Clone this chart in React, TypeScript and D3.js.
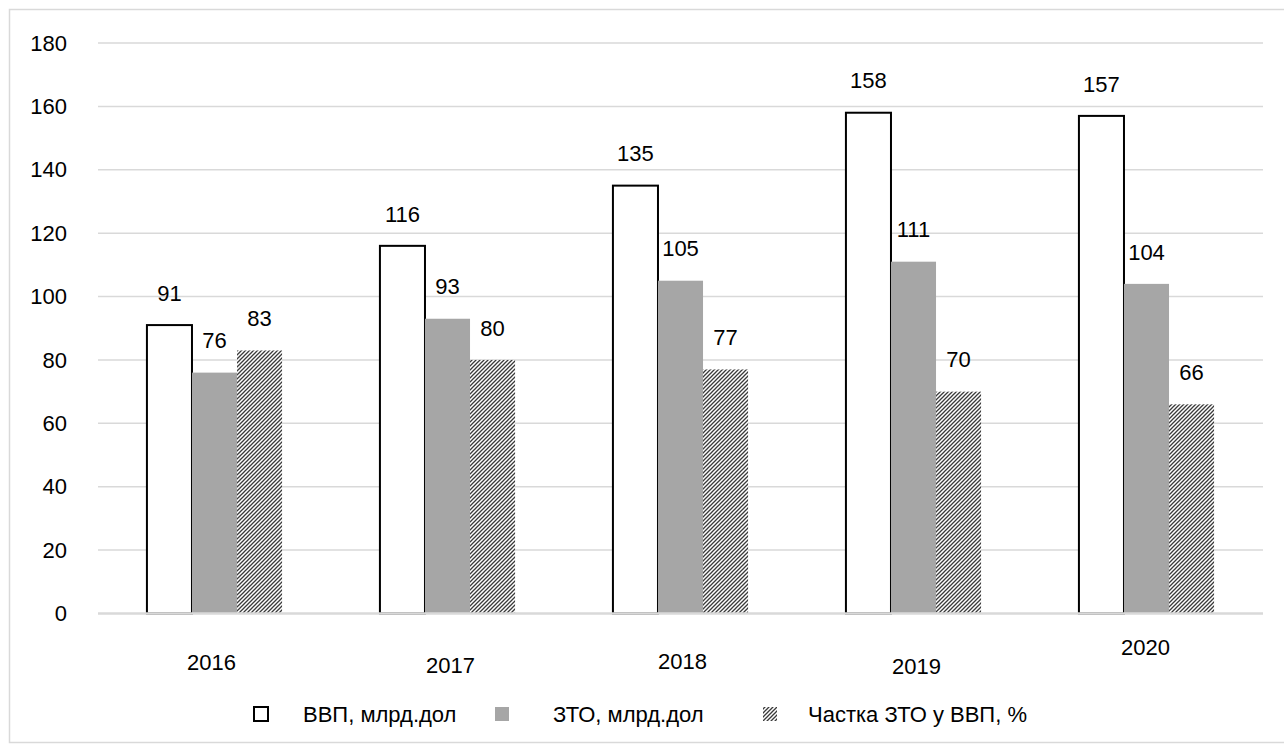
import React from 'react';
import * as d3 from 'd3';

const categories = ['2016', '2017', '2018', '2019', '2020'];
const gdpValues = [91, 116, 135, 158, 157];
const tradeValues = [76, 93, 105, 111, 104];
const shareValues = [83, 80, 77, 70, 66];
const seriesNames = ['ВВП, млрд.дол', 'ЗТО, млрд.дол', 'Частка ЗТО у ВВП, %'];
const yTicks = [0, 20, 40, 60, 80, 100, 120, 140, 160, 180];

// category label placement offsets (label placement, not data)
const catLabelDy = [49, 52, 48, 53, 34];
const catLabelDx = [-3, 3, 2, 3, -1];

const W = 1284;
const H = 749;
const FONT = '"Liberation Sans", Arial, sans-serif';
const FS = 22;

export default function App() {
  const x0 = d3.scaleBand<string>().domain(categories).range([98, 1263]).paddingInner(0.42).paddingOuter(0.21);
  const x1 = d3.scaleBand<number>().domain([0, 1, 2]).range([0, x0.bandwidth()]);
  const y = d3.scaleLinear().domain([0, 180]).range([613.5, 43]);
  const series = [gdpValues, tradeValues, shareValues];
  const fills = ['#ffffff', '#a6a6a6', 'url(#hatch)'];

  const legendMarkers = [261, 502, 770];
  const legendTexts = [303, 553, 808];
  const legendY = 714;

  return (
    <div>
      <style>{`body{margin:0}`}</style>
      <svg width={W} height={H} style={{ display: 'block', fontFamily: FONT }}>
        <defs>
          <pattern id="hatch" patternUnits="userSpaceOnUse" width={4} height={4}>
            <rect width={4} height={4} fill="#ffffff" />
            <path d="M-1,1 L1,-1 M0,4 L4,0 M3,5 L5,3" stroke="#3a3a3a" strokeWidth={1.3} />
          </pattern>
        </defs>
        <rect x={0} y={0} width={W} height={H} fill="#ffffff" />
        <rect x={9.5} y={9.5} width={1290} height={733} fill="none" stroke="#d9d9d9" strokeWidth={1.5} />

        {yTicks.filter(t => t > 0).map(t => (
          <line key={t} x1={98} x2={1263} y1={y(t)} y2={y(t)} stroke="#d9d9d9" strokeWidth={1.5} />
        ))}
        {yTicks.map(t => (
          <text key={'l' + t} x={67} y={y(t)} dy="0.35em" textAnchor="end" fontSize={FS} fill="#000">{t}</text>
        ))}

        {categories.map((c, ci) => (
          <g key={c}>
            {series.map((vals, si) => {
              const bx = (x0(c) as number) + (x1(si) as number);
              const bw = x1.bandwidth();
              const top = y(vals[ci]);
              return (
                <g key={si}>
                  <rect
                    x={bx}
                    y={top}
                    width={bw}
                    height={y(0) - top}
                    fill={fills[si]}
                    stroke={si === 0 ? '#000' : 'none'}
                    strokeWidth={si === 0 ? 2 : 0}
                  />
                  <text x={bx + bw / 2} y={top - 32} dy="0.35em" textAnchor="middle" fontSize={FS} fill="#000">
                    {vals[ci]}
                  </text>
                </g>
              );
            })}
          </g>
        ))}

        <line x1={98} x2={1263} y1={y(0)} y2={y(0)} stroke="#d9d9d9" strokeWidth={2.5} />

        {categories.map((c, ci) => (
          <text
            key={'c' + c}
            x={(x0(c) as number) + x0.bandwidth() / 2 + catLabelDx[ci]}
            y={y(0) + catLabelDy[ci]}
            dy="0.35em"
            textAnchor="middle"
            fontSize={FS}
            fill="#000"
          >
            {c}
          </text>
        ))}

        {seriesNames.map((n, i) => (
          <g key={n}>
            <rect
              x={legendMarkers[i] - 7}
              y={legendY - 7}
              width={14}
              height={14}
              fill={fills[i]}
              stroke={i === 0 ? '#000' : 'none'}
              strokeWidth={i === 0 ? 2 : 0}
            />
            <text x={legendTexts[i]} y={legendY} dy="0.35em" fontSize={FS} fill="#000">{n}</text>
          </g>
        ))}
      </svg>
    </div>
  );
}
